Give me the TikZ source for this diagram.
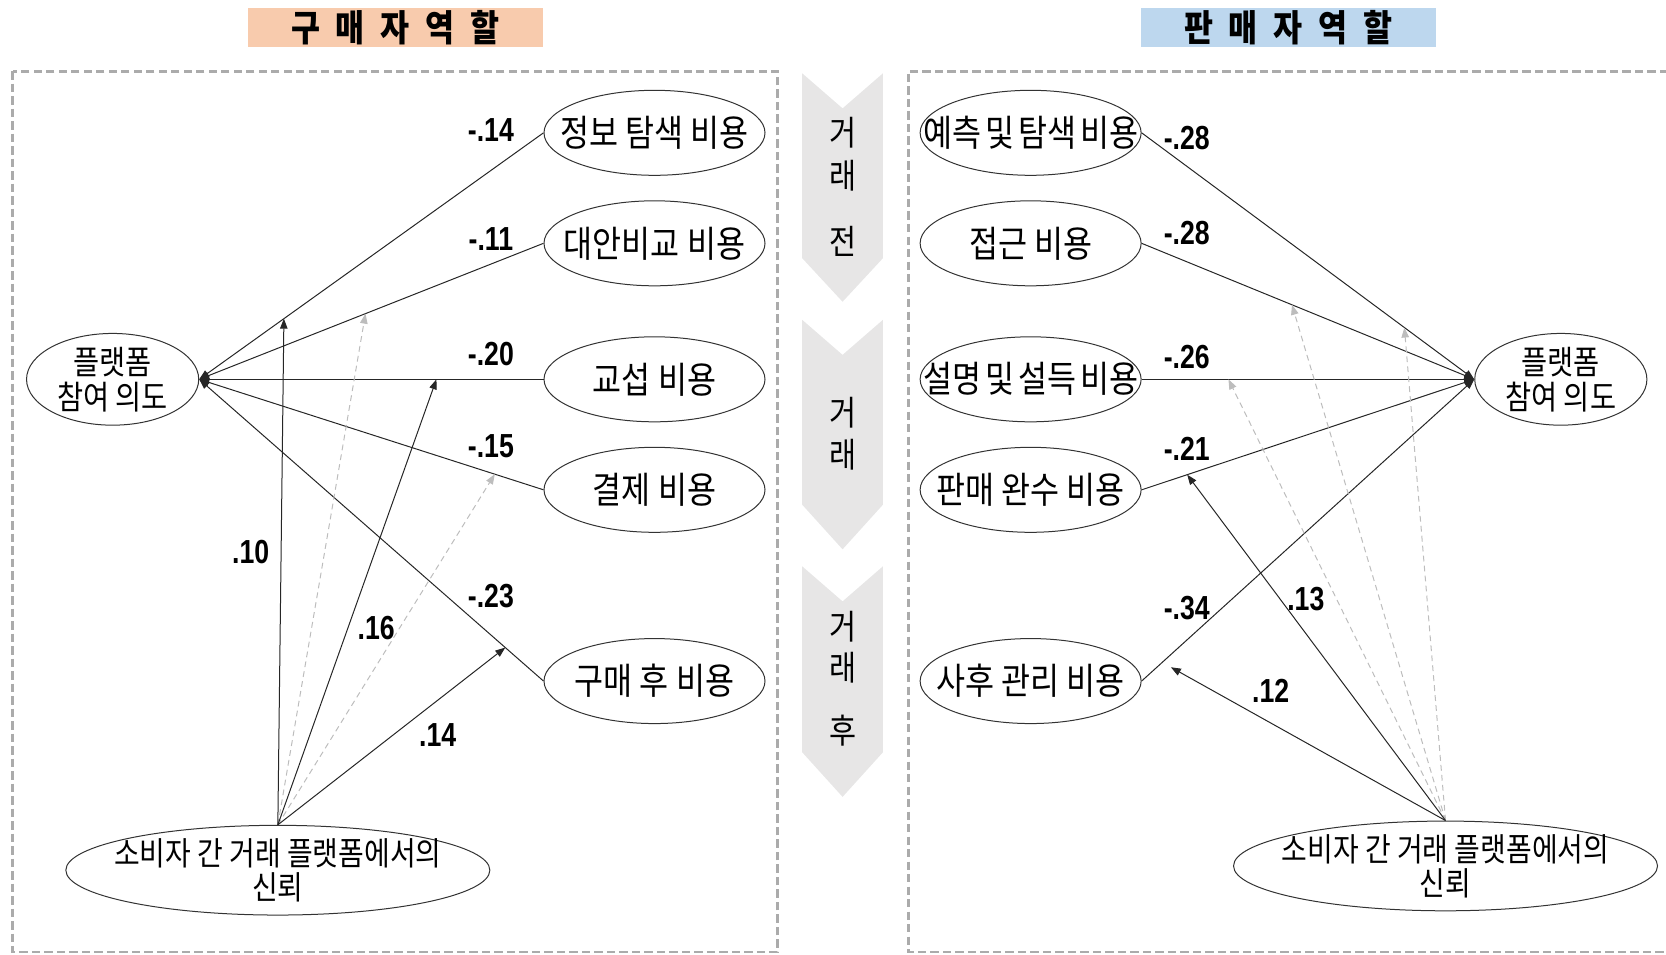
\documentclass[tikz,border=0pt]{standalone}
\usepackage{fontspec}
\setmainfont{Noto Sans CJK KR}
\newfontfamily\krn[FakeStretch=0.86]{Noto Sans CJK KR}
\newfontfamily\labfont[FakeStretch=0.8]{Liberation Sans}
\usetikzlibrary{shapes.geometric,arrows.meta}
\definecolor{peach}{HTML}{F8CBAD}
\definecolor{skyb}{HTML}{BDD7EE}
\definecolor{chev}{HTML}{E7E6E6}
\definecolor{boxgray}{HTML}{ABABAB}
\definecolor{dgray}{HTML}{BDBDBD}
\begin{document}
\begin{tikzpicture}[x=0.6375pt,y=-0.6375pt,
  cost/.style={ellipse, draw=black!80, line width=0.6pt, minimum width=132.6pt, minimum height=51pt, inner sep=0pt, font=\krn\fontsize{22}{24}\selectfont},
  intent/.style={ellipse, draw=black!80, line width=0.6pt, minimum width=103.3pt, minimum height=50.4pt, inner sep=0pt, align=center, font=\krn\fontsize{19.8}{21}\selectfont},
  trust/.style={ellipse, draw=black!80, line width=0.6pt, minimum width=254.4pt, minimum height=51.6pt, inner sep=0pt, align=center, font=\krn\fontsize{19.5}{20.4}\selectfont},
  coef/.style={font=\labfont\bfseries\fontsize{20}{22}\selectfont, inner sep=0pt},
  solidarr/.style={line width=0.6pt, draw=black!85, -{Triangle[length=6pt,width=4.5pt]}},
  dasharr/.style={line width=0.6pt, draw=dgray, dash pattern=on 3.5pt off 2.5pt, -{Triangle[length=6pt,width=4.5pt]}},
  frame/.style={draw=boxgray, line width=1.6pt, dash pattern=on 5pt off 2.5pt},
  chevshape/.style={fill=chev, draw=none},
  titlebox/.style={minimum width=177pt, minimum height=23pt, inner sep=0pt, font=\krn\bfseries\fontsize{22}{23}\selectfont},
  stagetxt/.style={inner sep=0pt, font=\krn\fontsize{20.5}{22}\selectfont}
]
\useasboundingbox (0,0) rectangle (1568,898);

% titles
\node[titlebox, fill=peach] (tl) at (372,26) {구\hspace{9.5pt}매\hspace{9.5pt}자\hspace{9.5pt}역\hspace{9.5pt}할};
\node[titlebox, fill=skyb] (tr) at (1212.5,26) {판\hspace{9.5pt}매\hspace{9.5pt}자\hspace{9.5pt}역\hspace{9.5pt}할};

% frames
\draw[frame] (12,67) rectangle (732,896);
\draw[frame] (1570,67) -- (855,67) -- (855,896) -- (1570,896);

% chevrons
\fill[chevshape] (755,69) -- (793,102) -- (831,69) -- (831,243) -- (793,284) -- (755,243) -- cycle;
\fill[chevshape] (755,301) -- (793,334) -- (831,301) -- (831,475) -- (793,517) -- (755,475) -- cycle;
\fill[chevshape] (755,533) -- (793,566) -- (831,533) -- (831,708) -- (793,750) -- (755,708) -- cycle;
\node[stagetxt] (s1a) at (793,125) {거};
\node[stagetxt] (s1b) at (793,165) {래};
\node[stagetxt] (s1c) at (793,227) {전};
\node[stagetxt] (s2a) at (793,388) {거};
\node[stagetxt] (s2b) at (793,428) {래};
\node[stagetxt] (s3a) at (793,590) {거};
\node[stagetxt] (s3b) at (793,628) {래};
\node[stagetxt] (s3c) at (793,688) {후};

% left side nodes
\node[intent] (intL) at (106,357) {플랫폼\\참여 의도};
\node[cost] (c1) at (616,125) {\makebox[0pt]{정보 탐색 비용}};
\node[cost] (c2) at (616,229) {\makebox[0pt]{대안비교 비용}};
\node[cost] (c3) at (616,357) {\makebox[0pt]{교섭 비용}};
\node[cost] (c4) at (616,461) {\makebox[0pt]{결제 비용}};
\node[cost] (c5) at (616,641) {\makebox[0pt]{구매 후 비용}};
\node[trust] (trustL) at (261.5,819) {\makebox[0pt]{소비자 간 거래 플랫폼에서의}\\신뢰};

% right side nodes
\node[intent] (intR) at (1469,357) {플랫폼\\참여 의도};
\node[cost] (r1) at (970,125) {\makebox[0pt]{예측\hspace{2.4pt}및\hspace{2.4pt}탐색\hspace{2.4pt}비용}};
\node[cost] (r2) at (970,229) {\makebox[0pt]{접근 비용}};
\node[cost] (r3) at (970,357) {\makebox[0pt]{설명\hspace{2.4pt}및\hspace{2.4pt}설득\hspace{2.4pt}비용}};
\node[cost] (r4) at (970,461) {\makebox[0pt]{판매 완수 비용}};
\node[cost] (r5) at (970,641) {\makebox[0pt]{사후 관리 비용}};
\node[trust] (trustR) at (1360.5,815) {\makebox[0pt]{소비자 간 거래 플랫폼에서의}\\신뢰};

% left connectors
\draw[solidarr] (c1.west) -- coordinate[pos=0.754] (m1) (intL.east);
\draw[solidarr] (c2.west) -- coordinate[pos=0.517] (m2) (intL.east);
\draw[solidarr] (c3.west) -- coordinate[pos=0.311] (m3) (intL.east);
\draw[solidarr] (c4.west) -- coordinate[pos=0.1415] (m4) (intL.east);
\draw[solidarr] (c5.west) -- coordinate[pos=0.111] (m5) (intL.east);
\draw[dasharr] (trustL.north) -- (m2);
\draw[dasharr] (trustL.north) -- (m4);
\draw[solidarr] (trustL.north) -- (m1);
\draw[solidarr] (trustL.north) -- (m3);
\draw[solidarr] (trustL.north) -- (m5);

% right connectors
\draw[solidarr] (r1.east) -- coordinate[pos=0.79] (n1) (intR.west);
\draw[solidarr] (r2.east) -- coordinate[pos=0.452] (n2) (intR.west);
\draw[solidarr] (r3.east) -- coordinate[pos=0.261] (n3) (intR.west);
\draw[solidarr] (r4.east) -- coordinate[pos=0.137] (n4) (intR.west);
\draw[solidarr] (r5.east) -- (intR.west);
\coordinate (n5) at (1102,628);
\draw[dasharr] (trustR.north) -- (n1);
\draw[dasharr] (trustR.north) -- (n2);
\draw[dasharr] (trustR.north) -- (n3);
\draw[solidarr] (trustR.north) -- (n4);
\draw[solidarr] (trustR.north) -- (n5);

% coefficients left
\node[coef] (k1) at (462,122) {-.14};
\node[coef] (k2) at (462,225) {-.11};
\node[coef] (k3) at (462,333) {-.20};
\node[coef] (k4) at (462,420) {-.15};
\node[coef] (k5) at (462,561) {-.23};
\node[coef] (t1) at (236,520) {.10};
\node[coef] (t2) at (354,591) {.16};
\node[coef] (t3) at (412,692) {.14};

% coefficients right
\node[coef] (q1) at (1117,130) {-.28};
\node[coef] (q2) at (1117,219) {-.28};
\node[coef] (q3) at (1117,336) {-.26};
\node[coef] (q4) at (1117,422) {-.21};
\node[coef] (q5) at (1117,572) {-.34};
\node[coef] (u1) at (1229,564) {.13};
\node[coef] (u2) at (1196,650) {.12};
\end{tikzpicture}
\end{document}
